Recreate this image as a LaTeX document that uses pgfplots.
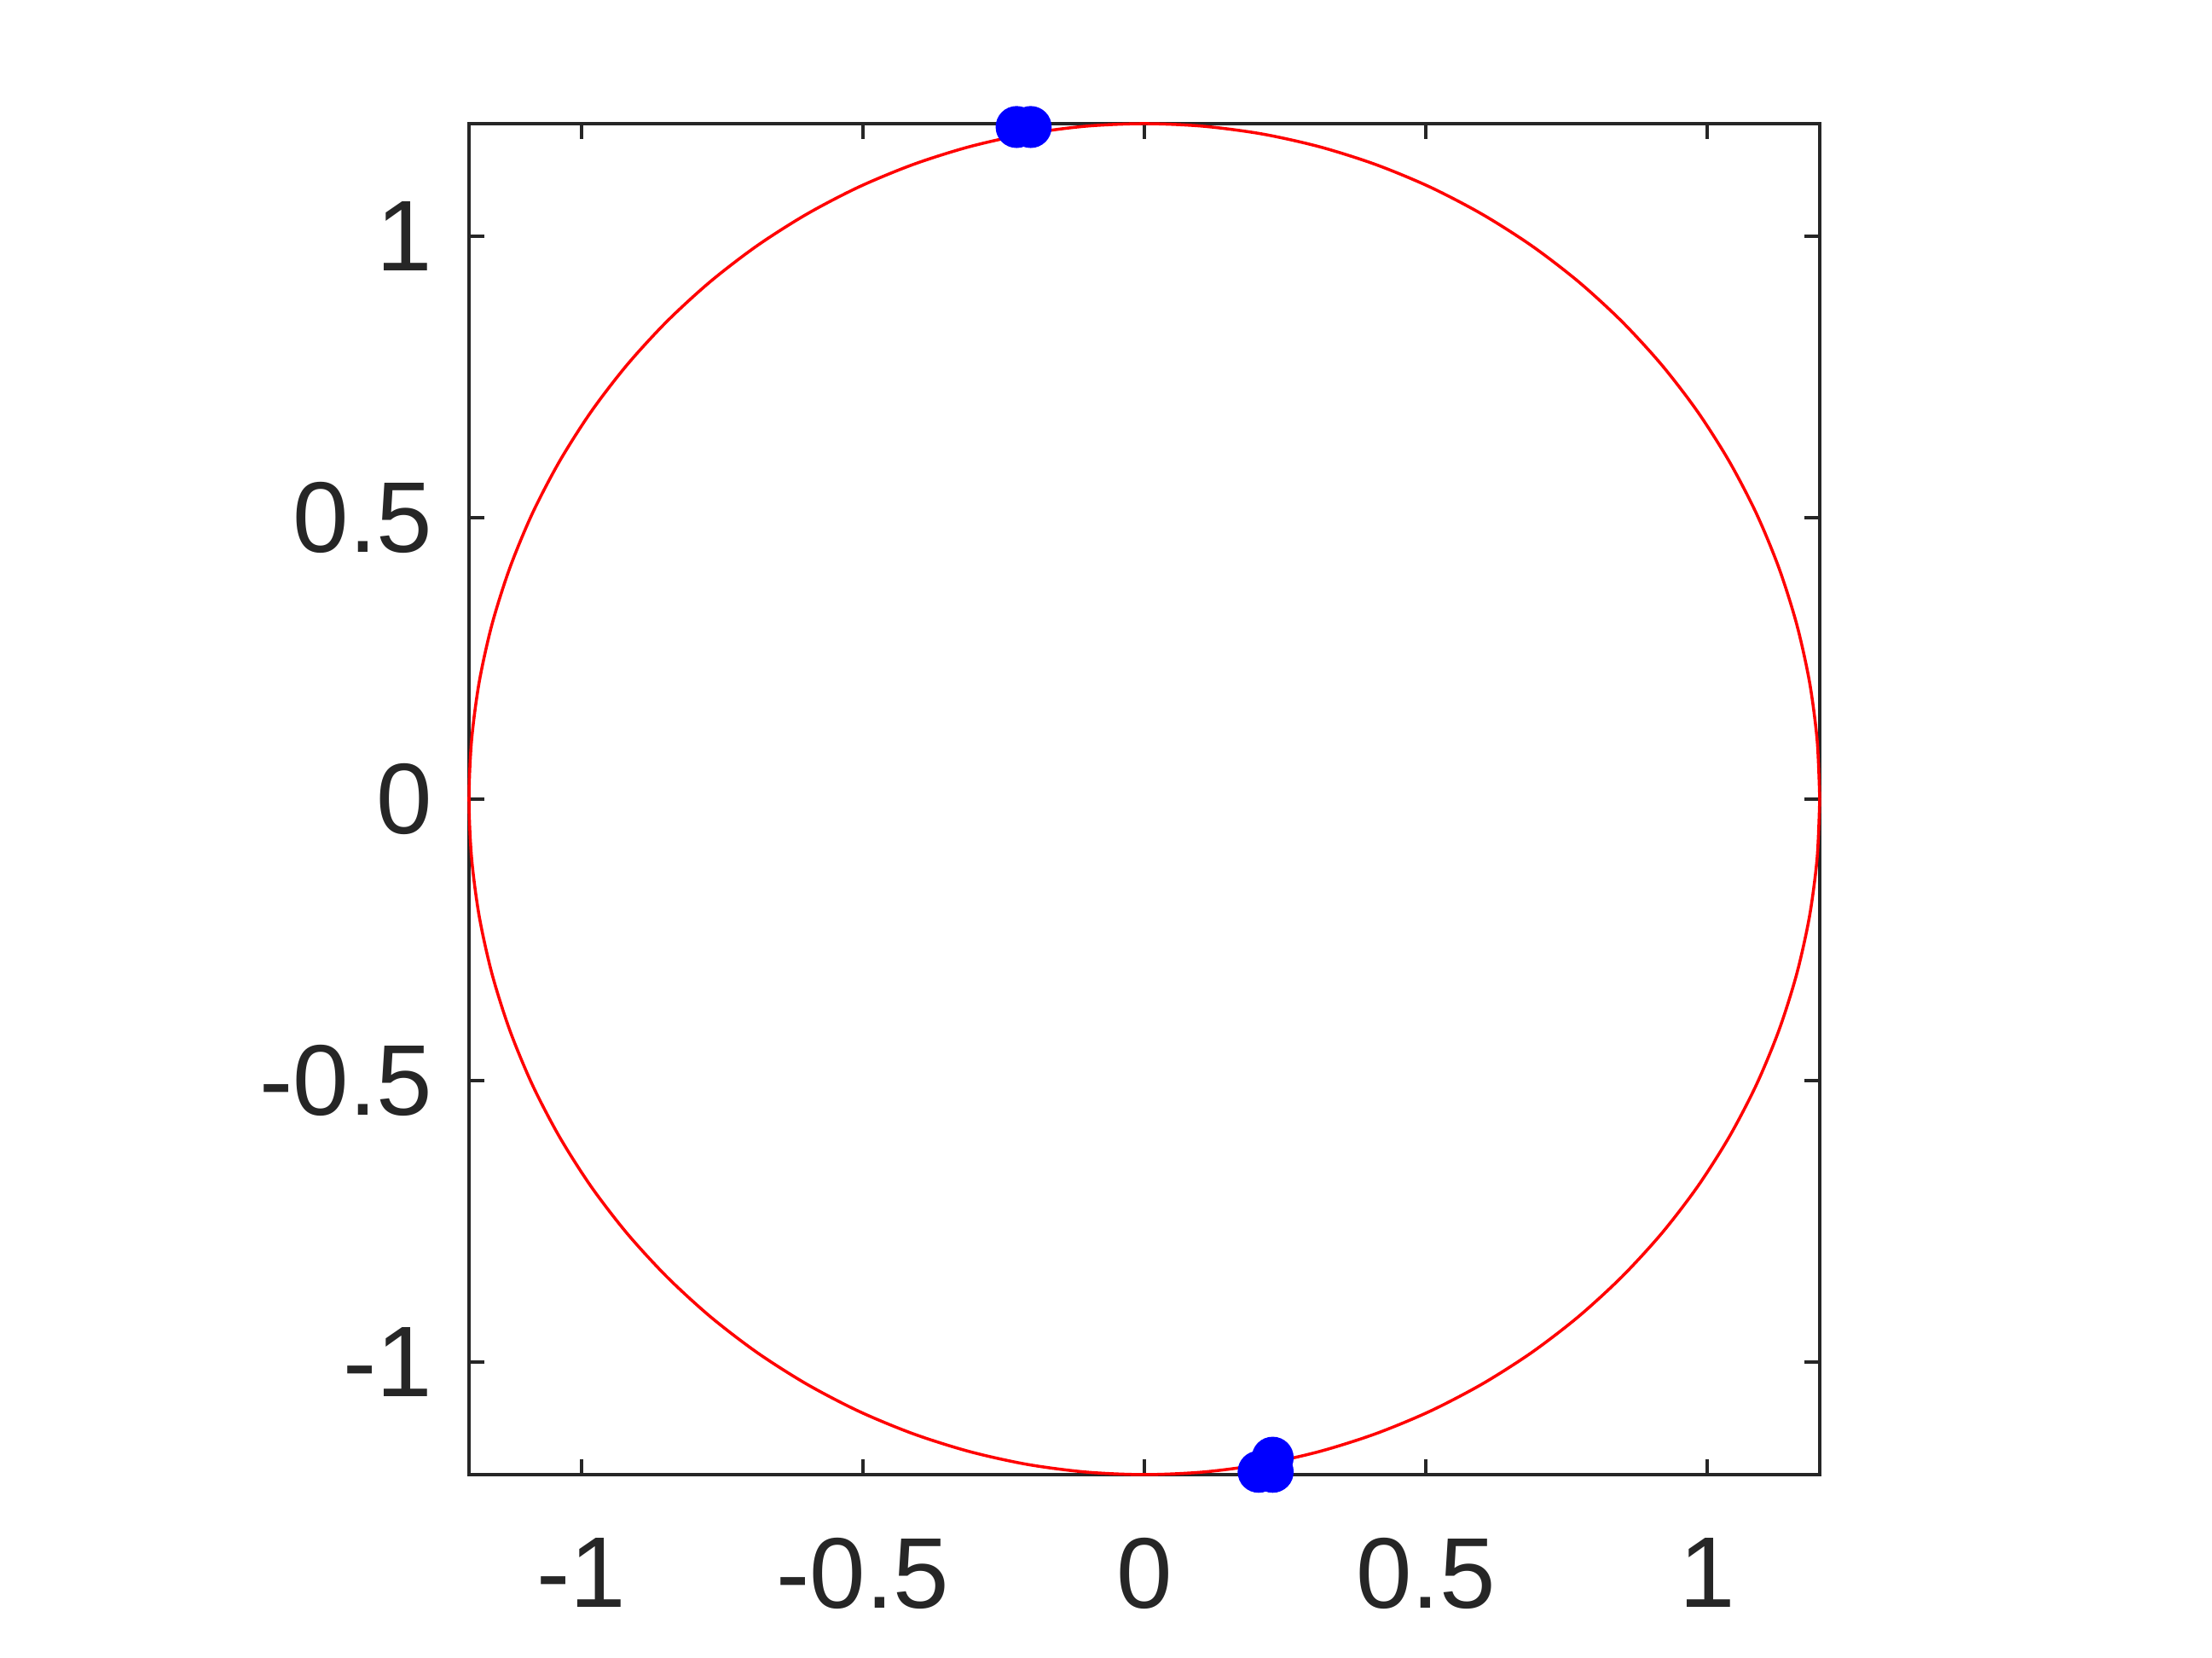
\documentclass[border=0pt]{standalone}
\usepackage{fontspec}
\setmainfont{Liberation Sans}
\usepackage{pgfplots}
\pgfplotsset{compat=1.18}
\definecolor{axgray}{HTML}{262626}

\begin{document}
\begin{tikzpicture}
  % page size (1 px = 0.01 cm)
  \useasboundingbox (-5.50,-2.15) rectangle (20.44,17.29);
  \begin{axis}[
    at={(0,0)}, anchor=south west,
    width=15.84cm, height=15.84cm, scale only axis,
    xmin=-1.2, xmax=1.2, ymin=-1.2, ymax=1.2,
    xtick={-1,-0.5,0,0.5,1}, ytick={-1,-0.5,0,0.5,1},
    xticklabels={-1,-0.5,0,0.5,1}, yticklabels={-1,-0.5,0,0.5,1},
    axis line style={axgray, line width=1pt},
    major tick style={axgray, line width=1pt},
    major tick length=0.18cm,
    tick align=inside,
    ticklabel style={font=\fontsize{33.5}{40}\selectfont, text=axgray},
    xticklabel style={anchor=north, inner sep=0pt, yshift=-0.74cm},
    yticklabel style={anchor=east, inner sep=0pt, xshift=-0.42cm},
    clip=false,
  ]
    % circle of radius 1.2
    \addplot[red, line width=1pt, smooth] coordinates {
      (1.2,0) (1.1954,0.1046) (1.1818,0.2084) (1.1591,0.3106) (1.1276,0.4104)
      (1.0876,0.5071) (1.0392,0.6) (0.9830,0.6883) (0.9193,0.7713) (0.8485,0.8485)
      (0.7713,0.9193) (0.6883,0.9830) (0.6,1.0392) (0.5071,1.0876) (0.4104,1.1276)
      (0.3106,1.1591) (0.2084,1.1818) (0.1046,1.1954) (0,1.2)
      (-0.1046,1.1954) (-0.2084,1.1818) (-0.3106,1.1591) (-0.4104,1.1276) (-0.5071,1.0876)
      (-0.6,1.0392) (-0.6883,0.9830) (-0.7713,0.9193) (-0.8485,0.8485) (-0.9193,0.7713)
      (-0.9830,0.6883) (-1.0392,0.6) (-1.0876,0.5071) (-1.1276,0.4104) (-1.1591,0.3106)
      (-1.1818,0.2084) (-1.1954,0.1046) (-1.2,0)
      (-1.1954,-0.1046) (-1.1818,-0.2084) (-1.1591,-0.3106) (-1.1276,-0.4104) (-1.0876,-0.5071)
      (-1.0392,-0.6) (-0.9830,-0.6883) (-0.9193,-0.7713) (-0.8485,-0.8485) (-0.7713,-0.9193)
      (-0.6883,-0.9830) (-0.6,-1.0392) (-0.5071,-1.0876) (-0.4104,-1.1276) (-0.3106,-1.1591)
      (-0.2084,-1.1818) (-0.1046,-1.1954) (0,-1.2)
      (0.1046,-1.1954) (0.2084,-1.1818) (0.3106,-1.1591) (0.4104,-1.1276) (0.5071,-1.0876)
      (0.6,-1.0392) (0.6883,-0.9830) (0.7713,-0.9193) (0.8485,-0.8485) (0.9193,-0.7713)
      (0.9830,-0.6883) (1.0392,-0.6) (1.0876,-0.5071) (1.1276,-0.4104) (1.1591,-0.3106)
      (1.1818,-0.2084) (1.1954,-0.1046) (1.2,0)
    };
    % points
    \addplot[only marks, mark=*, mark size=6.8pt, blue, mark options={draw=blue, fill=blue}] coordinates {
      (-0.227,1.194) (-0.202,1.194)
      (0.203,-1.195) (0.228,-1.195) (0.228,-1.170)
    };
  \end{axis}
\end{tikzpicture}
\end{document}
